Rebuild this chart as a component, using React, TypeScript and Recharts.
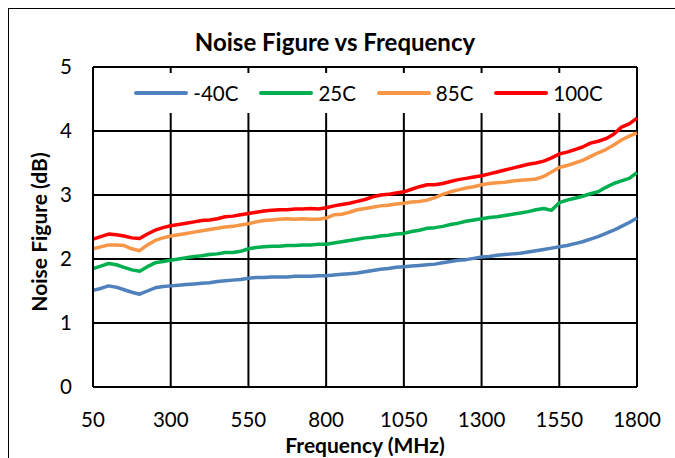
import { LineChart, Line, XAxis, YAxis, CartesianGrid, Legend } from 'recharts';

// frequency points (MHz)
const FREQ = [
  50, 75, 100, 125, 150, 175, 200, 225, 250, 275, 300, 325, 350, 375, 400, 425, 450, 475, 500, 525,
  550, 575, 600, 625, 650, 675, 700, 725, 750, 775, 800, 825, 850, 875, 900, 925, 950, 975, 1000, 1025,
  1050, 1075, 1100, 1125, 1150, 1175, 1200, 1225, 1250, 1275, 1300, 1325, 1350, 1375, 1400, 1425, 1450, 1475, 1500, 1525,
  1550, 1575, 1600, 1625, 1650, 1675, 1700, 1725, 1750, 1775, 1800,
];

// noise figure (dB) per temperature
const NF_M40 = [
  1.51, 1.54, 1.58, 1.56, 1.52, 1.48, 1.45, 1.50, 1.55, 1.57, 1.58, 1.59, 1.60, 1.61, 1.62, 1.63, 1.65, 1.66, 1.67, 1.68,
  1.70, 1.71, 1.71, 1.72, 1.72, 1.72, 1.73, 1.73, 1.73, 1.74, 1.74, 1.75, 1.76, 1.77, 1.78, 1.80, 1.82, 1.84, 1.85, 1.87,
  1.88, 1.89, 1.90, 1.91, 1.92, 1.94, 1.96, 1.98, 1.99, 2.01, 2.03, 2.04, 2.06, 2.07, 2.08, 2.09, 2.11, 2.13, 2.15, 2.17,
  2.19, 2.21, 2.24, 2.27, 2.31, 2.35, 2.40, 2.45, 2.51, 2.57, 2.64,
];
const NF_25 = [
  1.85, 1.89, 1.93, 1.91, 1.87, 1.83, 1.81, 1.88, 1.94, 1.96, 1.98, 2.00, 2.02, 2.04, 2.05, 2.07, 2.08, 2.10, 2.10, 2.12,
  2.16, 2.18, 2.19, 2.20, 2.20, 2.21, 2.21, 2.22, 2.22, 2.23, 2.23, 2.25, 2.27, 2.29, 2.31, 2.33, 2.34, 2.36, 2.37, 2.39,
  2.40, 2.43, 2.45, 2.48, 2.49, 2.51, 2.54, 2.56, 2.59, 2.61, 2.63, 2.65, 2.66, 2.68, 2.70, 2.72, 2.74, 2.77, 2.79, 2.76,
  2.88, 2.92, 2.95, 2.98, 3.02, 3.05, 3.12, 3.18, 3.22, 3.26, 3.35,
];
const NF_85 = [
  2.16, 2.19, 2.22, 2.22, 2.21, 2.16, 2.13, 2.22, 2.29, 2.33, 2.36, 2.38, 2.40, 2.42, 2.44, 2.46, 2.48, 2.50, 2.51, 2.53,
  2.55, 2.58, 2.60, 2.61, 2.62, 2.63, 2.62, 2.63, 2.62, 2.62, 2.64, 2.69, 2.70, 2.73, 2.77, 2.79, 2.81, 2.83, 2.84, 2.86,
  2.87, 2.89, 2.90, 2.92, 2.96, 3.01, 3.05, 3.08, 3.11, 3.13, 3.16, 3.18, 3.19, 3.20, 3.22, 3.23, 3.24, 3.25, 3.29, 3.36,
  3.43, 3.46, 3.50, 3.54, 3.60, 3.66, 3.71, 3.78, 3.86, 3.92, 3.97,
];
const NF_100 = [
  2.31, 2.35, 2.39, 2.38, 2.36, 2.33, 2.32, 2.39, 2.45, 2.49, 2.52, 2.54, 2.56, 2.58, 2.60, 2.61, 2.63, 2.66, 2.67, 2.69,
  2.71, 2.73, 2.75, 2.76, 2.77, 2.77, 2.78, 2.78, 2.79, 2.78, 2.80, 2.83, 2.85, 2.87, 2.90, 2.93, 2.97, 3.00, 3.01, 3.03,
  3.05, 3.09, 3.13, 3.16, 3.16, 3.18, 3.21, 3.24, 3.26, 3.28, 3.30, 3.33, 3.36, 3.39, 3.42, 3.45, 3.48, 3.50, 3.53, 3.58,
  3.64, 3.67, 3.71, 3.75, 3.81, 3.84, 3.88, 3.95, 4.06, 4.11, 4.20,
];

const X_TICKS = [50, 300, 550, 800, 1050, 1300, 1550, 1800];
const Y_TICKS = [0, 1, 2, 3, 4, 5];

const SERIES = [
  { key: 'm40', name: '-40C', color: '#4F81BD', values: NF_M40 },
  { key: 't25', name: '25C', color: '#00B050', values: NF_25 },
  { key: 't85', name: '85C', color: '#F79646', values: NF_85 },
  { key: 't100', name: '100C', color: '#FF0000', values: NF_100 },
];

const data = FREQ.map((freq, i) => {
  const row: Record<string, number> = { freq };
  SERIES.forEach((s) => {
    row[s.key] = s.values[i];
  });
  return row;
});

const FONT = 'Lato, sans-serif';

// legend keeps the series order (recharts sorts it otherwise)
const renderLegend = () => (
  <div
    style={{
      display: 'flex',
      justifyContent: 'center',
      alignItems: 'center',
      height: '100%',
      background: '#fff',
      fontFamily: FONT,
      fontSize: 20.5,
      color: '#000',
    }}
  >
    {SERIES.map((s, i) => (
      <div
        key={s.key}
        style={{ display: 'flex', alignItems: 'center', marginRight: i < 3 ? 21 : 0 }}
      >
        <span
          style={{
            width: 54,
            height: 4,
            borderRadius: 2,
            background: s.color,
            marginRight: 5,
          }}
        />
        <span>{s.name}</span>
      </div>
    ))}
  </div>
);

const yTitle = () => {
  const x = 29;
  const y = 223;
  return (
    <text
      x={x}
      y={y}
      transform={`rotate(-90, ${x}, ${y})`}
      textAnchor="middle"
      dominantBaseline="central"
      fontFamily={FONT}
      fontWeight="bold"
      fontSize={21}
      fill="#000"
    >
      Noise Figure (dB)
    </text>
  );
};

const xTitle = (props: any) => {
  const vb = props.viewBox;
  return (
    <text
      x={vb.x + vb.width / 2}
      y={vb.y + 57}
      textAnchor="middle"
      dominantBaseline="central"
      fontFamily={FONT}
      fontWeight="bold"
      fontSize={21}
      fill="#000"
    >
      Frequency (MHz)
    </text>
  );
};

export default function App() {
  return (
    <div style={{ position: 'fixed', top: 8, left: 8, right: 0, bottom: 0, overflow: 'hidden' }}>
      <div style={{ width: 700, height: 470, border: '1px solid #000', background: '#fff' }}>
        <div style={{ position: 'relative', width: 680, height: 460 }}>
          <div
            style={{
              position: 'absolute',
              top: 21,
              left: 0,
              width: 652,
              lineHeight: '24px',
              textAlign: 'center',
              fontFamily: FONT,
              fontWeight: 'bold',
              fontSize: 24,
              color: '#000',
              zIndex: 1,
            }}
          >
            Noise Figure vs Frequency
          </div>
          <LineChart
            width={680}
            height={460}
            data={data}
            margin={{ top: 58, right: 52, bottom: 12, left: 0 }}
          >
            <CartesianGrid stroke="#000" strokeWidth={2} />
            <XAxis
              dataKey="freq"
              type="number"
              domain={[50, 1800]}
              ticks={X_TICKS}
              interval={0}
              height={70}
              tickLine={false}
              tickSize={0}
              tickMargin={25}
              axisLine={{ stroke: '#000', strokeWidth: 2 }}
              tick={{ fill: '#000', fontFamily: FONT, fontSize: 20.5 }}
              label={{ content: xTitle }}
            />
            <YAxis
              type="number"
              domain={[0, 5]}
              ticks={Y_TICKS}
              interval={0}
              width={84}
              tickLine={false}
              tickSize={0}
              tickMargin={21}
              axisLine={{ stroke: '#000', strokeWidth: 2 }}
              tick={{ fill: '#000', fontFamily: FONT, fontSize: 20.5 }}
              label={{ content: yTitle }}
            />
            <Legend
              layout="vertical"
              verticalAlign="middle"
              align="center"
              content={renderLegend}
              wrapperStyle={{ top: 64, left: 122, width: 475, height: 40 }}
            />
            {SERIES.map((s) => (
              <Line
                key={s.key}
                type="linear"
                dataKey={s.key}
                name={s.name}
                stroke={s.color}
                strokeWidth={3.5}
                strokeLinejoin="round"
                dot={false}
                activeDot={false}
                isAnimationActive={false}
              />
            ))}
          </LineChart>
        </div>
      </div>
    </div>
  );
}
